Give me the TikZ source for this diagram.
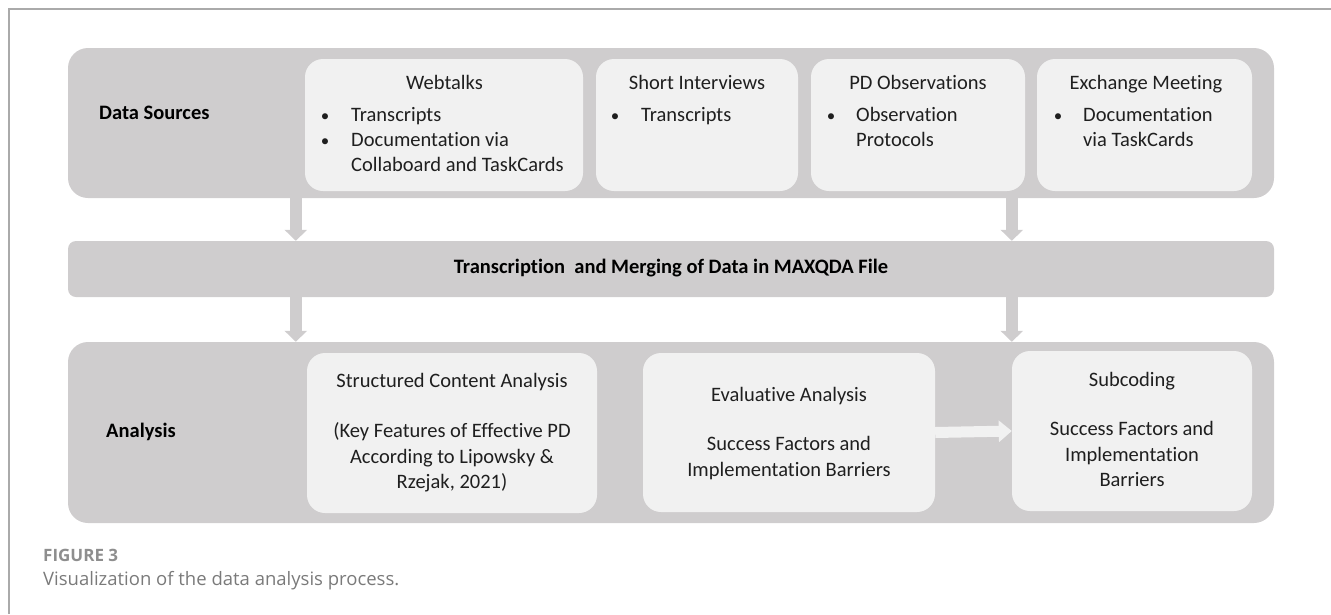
\documentclass[tikz,border=0pt]{standalone}
\usepackage{fontspec}
\setmainfont{Carlito}[RawFeature=-liga]
\newfontfamily\capfont{Open Sans}
\usetikzlibrary{arrows.meta}
\definecolor{bandgray}{HTML}{CFCDCE}
\definecolor{boxfill}{HTML}{F1F1F1}
\definecolor{framegray}{HTML}{AAAAAA}
\definecolor{capgray}{HTML}{7A7A7A}
\tikzset{
  band/.style={fill=bandgray, draw=none, rounded corners=20pt, inner sep=0pt},
  midband/.style={fill=bandgray, draw=none, rounded corners=8pt, inner sep=0pt},
  srcbox/.style={fill=boxfill, draw=none, rounded corners=18pt, inner sep=0pt},
  txt/.style={inner sep=0pt, anchor=mid, yshift=-2pt, font=\fontsize{20.5}{24}\selectfont, text=black!88},
  ltxt/.style={txt, anchor=mid west},
  blt/.style={inner sep=0pt, anchor=mid, yshift=-2pt, font=\fontsize{17}{20}\selectfont, text=black!88},
  lbl/.style={inner sep=0pt, anchor=mid west, yshift=-2pt, font=\fontsize{20.5}{24}\selectfont\bfseries},
  downarrow/.style={draw=bandgray, line width=12pt, -{Triangle[width=22pt,length=11pt,fill=bandgray]}},
  rightarrow/.style={draw=boxfill, line width=11pt, -{Triangle[width=21pt,length=13pt,fill=boxfill]}},
}
\begin{document}
\begin{tikzpicture}[x=1pt,y=-1pt]
\useasboundingbox (0,0) rectangle (1331,614);
% page frame
\draw[framegray, line width=1.5pt] (9,614) -- (9,9) -- (1331,9);

% bands
\node[band, minimum width=1206pt, minimum height=150pt] (ds) at (671,123) {};
\node[midband, minimum width=1206pt, minimum height=56pt] (mb) at (671,269) {};
\node[band, minimum width=1206pt, minimum height=181pt] (an) at (671,432.5) {};

% data source boxes
\node[srcbox, minimum width=278pt, minimum height=132pt] (wt) at (444,125) {};
\node[srcbox, minimum width=202pt, minimum height=132pt] (si) at (697,125) {};
\node[srcbox, minimum width=214pt, minimum height=132pt] (pd) at (918,125) {};
\node[srcbox, minimum width=215pt, minimum height=132pt] (em) at (1144.5,125) {};

% analysis boxes
\node[srcbox, minimum width=290pt, minimum height=160pt] (sc) at (452,433) {};
\node[srcbox, minimum width=292pt, minimum height=159pt] (ev) at (789,432.5) {};
\node[srcbox, minimum width=240pt, minimum height=160pt] (sb) at (1132,431) {};

% labels
\node[lbl] (dsl) at (99,115) {Data Sources};
\node[lbl] (anl) at (106,433) {Analysis};
\node[lbl, anchor=mid] (mbl) at (mb.center) {Transcription\ \ and Merging of Data in MAXQDA File};

% Webtalks
\node[txt] (wtt) at (444.5,85) {Webtalks};
\node[blt] (wtb1) at (325,117) {•};
\node[ltxt] (wt1) at (351,117) {Transcripts};
\node[blt] (wtb2) at (325,142) {•};
\node[ltxt] (wt2) at (351,142) {Documentation via};
\node[ltxt] (wt3) at (351,167) {Collaboard and TaskCards};

% Short interviews
\node[txt] (sit) at (697,85) {Short Interviews};
\node[blt] (sib1) at (615,117) {•};
\node[ltxt] (si1) at (641,117) {Transcripts};

% PD observations
\node[txt] (pdt) at (918,85) {PD Observations};
\node[blt] (pdb1) at (831,117) {•};
\node[ltxt] (pd1) at (856,117) {Observation};
\node[ltxt] (pd2) at (856,142) {Protocols};

% Exchange meeting
\node[txt] (emt) at (1146,85) {Exchange Meeting};
\node[blt] (emb1) at (1058,117) {•};
\node[ltxt] (em1) at (1083,117) {Documentation};
\node[ltxt] (em2) at (1083,142) {via TaskCards};

% Structured content analysis
\node[txt] (sct) at (452,383) {Structured Content Analysis};
\node[txt] (sc1) at (452,433) {(Key Features of Effective PD};
\node[txt] (sc2) at (452,459) {According to Lipowsky \&};
\node[txt] (sc3) at (452,484) {Rzejak, 2021)};

% Evaluative analysis
\node[txt] (evt) at (789,397) {Evaluative Analysis};
\node[txt] (ev1) at (789,446) {Success Factors and};
\node[txt] (ev2) at (789,472) {Implementation Barriers};

% Subcoding
\node[txt] (sbt) at (1132,382) {Subcoding};
\node[txt] (sb1) at (1132,431) {Success Factors and};
\node[txt] (sb2) at (1132,457) {Implementation};
\node[txt] (sb3) at (1132,482) {Barriers};

% arrows
\draw[downarrow] ([xshift=228pt]ds.south west) -- ([xshift=228pt]mb.north west);
\draw[downarrow] ([xshift=944pt]ds.south west) -- ([xshift=944pt]mb.north west);
\draw[downarrow] ([xshift=228pt]mb.south west) -- ([xshift=228pt]an.north west);
\draw[downarrow] ([xshift=944pt]mb.south west) -- ([xshift=944pt]an.north west);
\draw[rightarrow] (ev.east) -- (sb.west);

% caption
\node[inner sep=0pt, anchor=mid west, font=\capfont\fontsize{17}{20}\selectfont\bfseries, text=capgray!85] (fig) at (43,559) {FIGURE 3};
\node[inner sep=0pt, anchor=mid west, font=\capfont\fontsize{18.5}{22}\selectfont, text=capgray] (cap) at (43,583) {Visualization of the data analysis process.};
\end{tikzpicture}
\end{document}
